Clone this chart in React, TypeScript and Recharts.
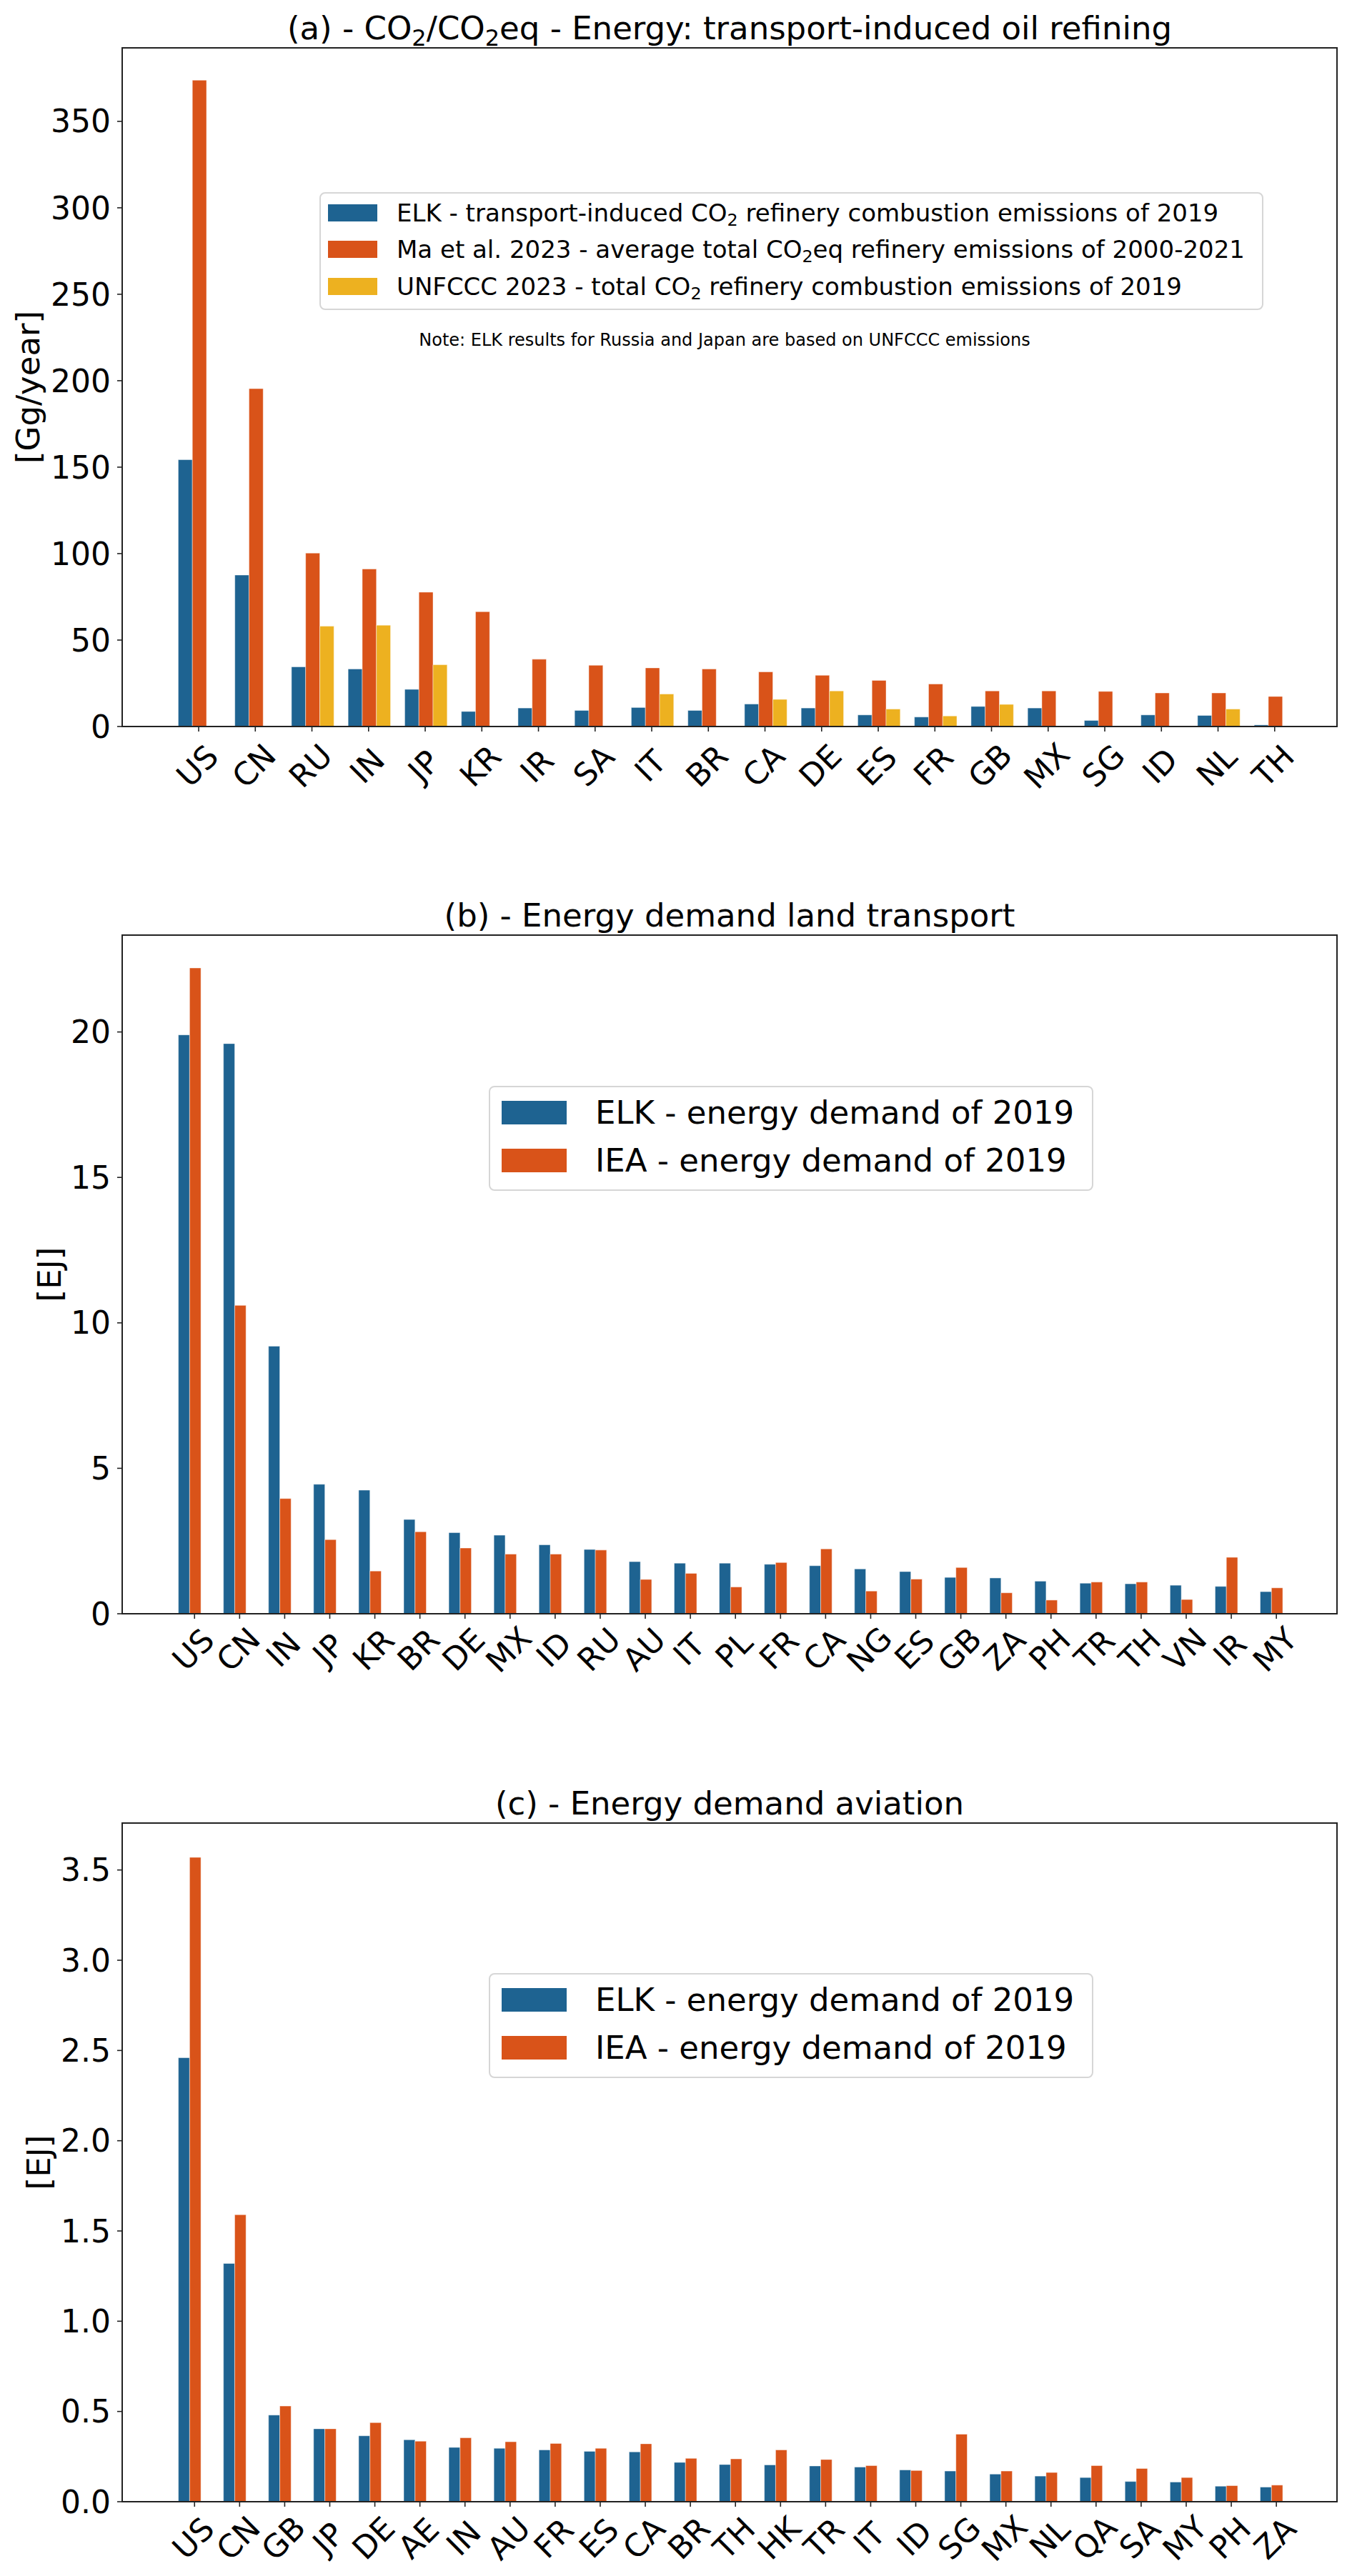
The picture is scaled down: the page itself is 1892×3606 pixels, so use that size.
import React from 'react'
import { BarChart, Bar, XAxis, YAxis, Legend } from 'recharts'

const FONT = '"DejaVu Sans", Verdana, sans-serif'
const BLUE = '#1e6391'
const ORANGE = '#d95319'
const YELLOW = '#edb120'
const AXIS = '#222'

// (a) transport-induced oil refining, Gg/year
const refineryCountries = ['US', 'CN', 'RU', 'IN', 'JP', 'KR', 'IR', 'SA', 'IT', 'BR', 'CA', 'DE', 'ES', 'FR', 'GB', 'MX', 'SG', 'ID', 'NL', 'TH']
const refineryElk = [154.3, 87.6, 34.5, 33.3, 21.5, 8.7, 10.7, 9.3, 11.0, 9.3, 13.0, 10.7, 6.7, 5.5, 11.6, 10.7, 3.5, 6.7, 6.4, 0.9]
const refineryMa = [373.8, 195.4, 100.3, 91.1, 77.7, 66.4, 38.9, 35.4, 33.9, 33.3, 31.6, 29.6, 26.7, 24.6, 20.6, 20.6, 20.3, 19.4, 19.4, 17.4]
const refineryUnfccc = [null, null, 58.0, 58.6, 35.7, null, null, null, 18.8, null, 15.7, 20.6, 10.1, 6.1, 12.8, null, null, null, 10.1, null]
const refineryTicks = [0, 50, 100, 150, 200, 250, 300, 350]

// (b) land transport energy demand, EJ
const landCountries = ['US', 'CN', 'IN', 'JP', 'KR', 'BR', 'DE', 'MX', 'ID', 'RU', 'AU', 'IT', 'PL', 'FR', 'CA', 'NG', 'ES', 'GB', 'ZA', 'PH', 'TR', 'TH', 'VN', 'IR', 'MY']
const landElk = [19.9, 19.6, 9.2, 4.45, 4.25, 3.24, 2.79, 2.7, 2.37, 2.21, 1.79, 1.74, 1.74, 1.7, 1.65, 1.54, 1.45, 1.25, 1.23, 1.12, 1.05, 1.03, 0.98, 0.94, 0.76]
const landIea = [22.2, 10.6, 3.96, 2.55, 1.47, 2.82, 2.26, 2.05, 2.05, 2.19, 1.18, 1.39, 0.92, 1.76, 2.23, 0.78, 1.19, 1.59, 0.72, 0.47, 1.09, 1.09, 0.49, 1.94, 0.89]
const landTicks = [0, 5, 10, 15, 20]

// (c) aviation energy demand, EJ
const aviationCountries = ['US', 'CN', 'GB', 'JP', 'DE', 'AE', 'IN', 'AU', 'FR', 'ES', 'CA', 'BR', 'TH', 'HK', 'TR', 'IT', 'ID', 'SG', 'MX', 'NL', 'QA', 'SA', 'MY', 'PH', 'ZA']
const aviationElk = [2.46, 1.32, 0.48, 0.404, 0.365, 0.343, 0.301, 0.296, 0.287, 0.279, 0.276, 0.218, 0.206, 0.204, 0.198, 0.192, 0.176, 0.17, 0.153, 0.142, 0.134, 0.112, 0.109, 0.086, 0.081]
const aviationIea = [3.57, 1.59, 0.53, 0.404, 0.438, 0.335, 0.354, 0.332, 0.323, 0.296, 0.321, 0.24, 0.237, 0.287, 0.234, 0.2, 0.173, 0.374, 0.17, 0.162, 0.2, 0.184, 0.134, 0.089, 0.092]
const aviationTicks = [0, 0.5, 1, 1.5, 2, 2.5, 3, 3.5]

const refineryData = refineryCountries.map((c, i) => ({ country: c, elk: refineryElk[i], ma: refineryMa[i], unfccc: refineryUnfccc[i] }))
const landData = landCountries.map((c, i) => ({ country: c, elk: landElk[i], iea: landIea[i] }))
const aviationData = aviationCountries.map((c, i) => ({ country: c, elk: aviationElk[i], iea: aviationIea[i] }))

const Sub = ({ children }: { children: React.ReactNode }) => (
  <span style={{ fontSize: '70%', verticalAlign: '-0.25em', lineHeight: 0 }}>{children}</span>
)

type LegendItem = { color: string; label: React.ReactNode }

function LegendBox({ items, w, h, fontSize, rowH, padTop, padLeft, handleW, handleH, gap }: any) {
  return (
    <div
      style={{
        boxSizing: 'border-box',
        width: w,
        height: h,
        border: '2px solid #d6d6d6',
        borderRadius: 8,
        background: 'rgba(255,255,255,0.8)',
        paddingTop: padTop,
        paddingLeft: padLeft,
        fontFamily: FONT,
        fontSize,
        color: '#000',
      }}
    >
      {items.map((it: LegendItem, i: number) => (
        <div key={i} style={{ display: 'flex', alignItems: 'center', height: rowH }}>
          <span style={{ width: handleW, height: handleH, background: it.color, marginRight: gap, flex: 'none' }} />
          <span style={{ whiteSpace: 'nowrap', lineHeight: 1 }}>{it.label}</span>
        </div>
      ))}
    </div>
  )
}

function XTick(props: any) {
  const { x, y, payload, shift, dy } = props
  const tx = x + shift
  const lx = tx - 2
  const ly = y + dy
  return (
    <g>
      <line x1={tx} x2={tx} y1={y} y2={y + 7} stroke={AXIS} strokeWidth={1.6} />
      <text
        x={lx}
        y={ly}
        transform={`rotate(-45 ${lx} ${ly})`}
        textAnchor="middle"
        dominantBaseline="central"
        fontSize={44}
        fontFamily={FONT}
        fill="#000"
      >
        {payload.value}
      </text>
    </g>
  )
}

const W = 1892
const PLOT_TOP = 67
const PLOT_BOTTOM = 1017
const PLOT_LEFT = 171
const PLOT_RIGHT = 1871
const Y_AXIS_W = 120
const X_AXIS_H = 80

function Panel(props: any) {
  const { top, height, data, series, title, ylabel, ylabelX, yTicks, yMax, yFmt, barSize, padding, tickShift, labelDy, legend, extra } = props
  const midY = (PLOT_TOP + PLOT_BOTTOM) / 2
  return (
    <div style={{ position: 'absolute', left: 0, top }}>
      <BarChart
        width={W}
        height={height}
        data={data}
        barSize={barSize}
        barGap={0}
        margin={{ top: PLOT_TOP, right: W - PLOT_RIGHT, left: PLOT_LEFT - Y_AXIS_W, bottom: height - PLOT_BOTTOM - X_AXIS_H }}
      >
        <XAxis
          dataKey="country"
          height={X_AXIS_H}
          interval={0}
          padding={padding}
          tickSize={0}
          tickMargin={0}
          tickLine={false}
          axisLine={{ stroke: AXIS, strokeWidth: 2 }}
          tick={(p: any) => <XTick {...p} shift={tickShift} dy={labelDy} />}
        />
        <YAxis
          width={Y_AXIS_W}
          domain={[0, yMax]}
          ticks={yTicks}
          interval={0}
          tickFormatter={yFmt}
          tickSize={7}
          tickMargin={9}
          tickLine={{ stroke: AXIS, strokeWidth: 1.6 }}
          axisLine={{ stroke: AXIS, strokeWidth: 2 }}
          tick={{ fontSize: 44, fill: '#000', fontFamily: FONT }}
        />
        {series.map((s: any) => (
          <Bar
            key={s.key}
            dataKey={s.key}
            fill={s.color}
            stroke="rgba(255,255,255,0.45)"
            strokeWidth={1}
            isAnimationActive={false}
          />
        ))}
        <Legend
          layout="horizontal"
          verticalAlign="middle"
          align="center"
          wrapperStyle={legend.style}
          content={() => legend.node}
        />
        {/* axes frame (matplotlib spines) */}
        <rect
          x={PLOT_LEFT}
          y={PLOT_TOP}
          width={PLOT_RIGHT - PLOT_LEFT}
          height={PLOT_BOTTOM - PLOT_TOP}
          fill="none"
          stroke={AXIS}
          strokeWidth={2}
        />
        <text x={(PLOT_LEFT + PLOT_RIGHT) / 2} y={55} textAnchor="middle" fontSize={45} fontFamily={FONT} fill="#000">
          {title}
        </text>
        <text
          x={ylabelX}
          y={midY}
          transform={`rotate(-90 ${ylabelX} ${midY})`}
          textAnchor="middle"
          dominantBaseline="central"
          fontSize={45}
          fontFamily={FONT}
          fill="#000"
        >
          {ylabel}
        </text>
        {extra}
      </BarChart>
    </div>
  )
}

const energyLegendItems: LegendItem[] = [
  { color: BLUE, label: 'ELK - energy demand of 2019' },
  { color: ORANGE, label: 'IEA - energy demand of 2019' },
]

const energyLegend = {
  style: { left: 684, top: 278, width: 846, height: 147 },
  node: (
    <LegendBox items={energyLegendItems} w={846} h={147} fontSize={45} rowH={66.5} padTop={2.5} padLeft={16} handleW={91} handleH={33} gap={40} />
  ),
}

const refineryLegendItems: LegendItem[] = [
  { color: BLUE, label: <>ELK - transport-induced CO<Sub>2</Sub> refinery combustion emissions of 2019</> },
  { color: ORANGE, label: <>Ma et al. 2023 - average total CO<Sub>2</Sub>eq refinery emissions of 2000-2021</> },
  { color: YELLOW, label: <>UNFCCC 2023 - total CO<Sub>2</Sub> refinery combustion emissions of 2019</> },
]

const refineryLegend = {
  style: { left: 447, top: 269, width: 1321, height: 165 },
  node: (
    <LegendBox items={refineryLegendItems} w={1321} h={165} fontSize={34} rowH={51.3} padTop={1.4} padLeft={10} handleW={69} handleH={24} gap={27} />
  ),
}

const co2Title = (
  <>
    (a) - CO<tspan fontSize={32} dy={9}>2</tspan>
    <tspan dy={-9}>/CO</tspan>
    <tspan fontSize={32} dy={9}>2</tspan>
    <tspan dy={-9}>eq - Energy: transport-induced oil refining</tspan>
  </>
)

export default function App() {
  return (
    <div style={{ position: 'relative', width: W, height: 3606, background: '#fff', overflow: 'hidden' }}>
      <style>{'body{margin:0;background:#fff}'}</style>
      <Panel
        top={0}
        height={1170}
        data={refineryData}
        series={[
          { key: 'elk', color: BLUE },
          { key: 'ma', color: ORANGE },
          { key: 'unfccc', color: YELLOW },
        ]}
        title={co2Title}
        ylabel="[Gg/year]"
        ylabelX={39}
        yTicks={refineryTicks}
        yMax={392.5}
        yFmt={(v: number) => String(v)}
        barSize={19.8}
        padding={{ left: 68.4, right: 46.6 }}
        tickShift={-1}
        labelDy={55}
        legend={refineryLegend}
        extra={
          <text x={1014} y={484} textAnchor="middle" fontSize={24} fontFamily={FONT} fill="#000">
            Note: ELK results for Russia and Japan are based on UNFCCC emissions
          </text>
        }
      />
      <Panel
        top={1242}
        height={1170}
        data={landData}
        series={[
          { key: 'elk', color: BLUE },
          { key: 'iea', color: ORANGE },
        ]}
        title="(b) - Energy demand land transport"
        ylabel="[EJ]"
        ylabelX={69}
        yTicks={landTicks}
        yMax={23.33}
        yFmt={(v: number) => String(v)}
        barSize={15.77}
        padding={{ left: 62.6, right: 60.4 }}
        tickShift={7.1}
        labelDy={50}
        legend={energyLegend}
      />
      <Panel
        top={2485}
        height={1121}
        data={aviationData}
        series={[
          { key: 'elk', color: BLUE },
          { key: 'iea', color: ORANGE },
        ]}
        title="(c) - Energy demand aviation"
        ylabel="[EJ]"
        ylabelX={54}
        yTicks={aviationTicks}
        yMax={3.76}
        yFmt={(v: number) => v.toFixed(1)}
        barSize={15.77}
        padding={{ left: 62.6, right: 60.4 }}
        tickShift={7.1}
        labelDy={51}
        legend={{ ...energyLegend, style: { ...energyLegend.style, top: 277 } }}
      />
    </div>
  )
}
